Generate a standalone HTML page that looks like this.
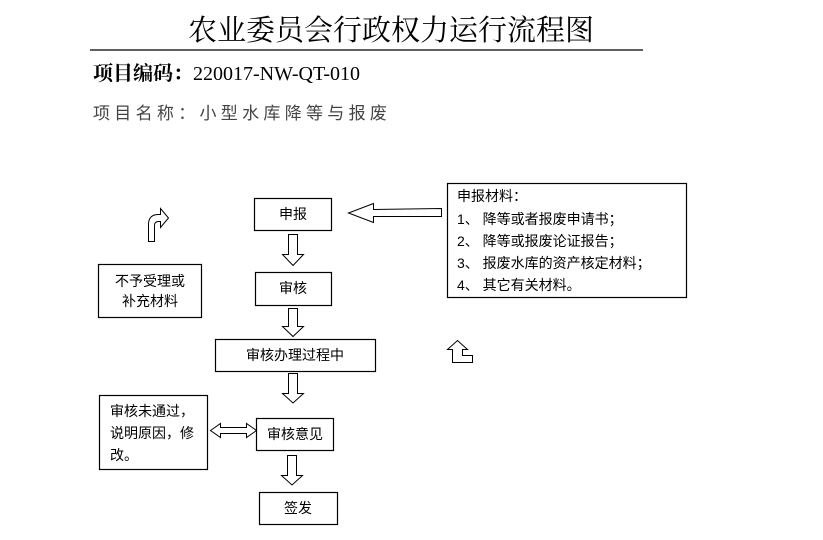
<!DOCTYPE html>
<html><head><meta charset="utf-8"><style>
body{margin:0;background:#fff;width:823px;height:540px;overflow:hidden;}
svg{display:block}
text{font-family:"Liberation Serif","Noto Serif CJK SC","Noto Sans CJK SC",serif;}
.s{font-family:"Liberation Sans","Noto Sans CJK SC",sans-serif;font-size:14px;fill:#000}
</style></head><body>
<svg width="823" height="540" viewBox="0 0 823 540" xmlns="http://www.w3.org/2000/svg">
<text x="391" y="40" text-anchor="middle" font-size="29" style="font-family:'Noto Serif CJK SC','Liberation Serif',serif">农业委员会行政权力运行流程图</text>
<line x1="90" y1="50" x2="643" y2="50" stroke="#000" stroke-width="1.2"/>
<text x="93" y="80" font-size="20"><tspan font-weight="bold" style="font-family:'Noto Serif CJK SC',serif">项目编码：</tspan>220017-NW-QT-010</text>
<text x="93" y="119" font-size="17" fill="#444" letter-spacing="4.3" style="font-family:'Noto Sans CJK SC',sans-serif">项目名称：小型水库降等与报废</text>
<g fill="#fff" stroke="#000" stroke-width="1.2">
<rect x="254.5" y="198.5" width="77" height="32"/>
<rect x="255.5" y="272.5" width="76" height="33"/>
<rect x="215.5" y="339.5" width="160" height="32"/>
<rect x="256.5" y="418.5" width="77" height="32"/>
<rect x="259.5" y="492.5" width="78" height="32"/>
<rect x="98.5" y="264.5" width="103" height="53"/>
<rect x="99.5" y="395.5" width="108" height="74"/>
<rect x="447.5" y="183.5" width="239" height="114"/>
</g>
<g fill="#fff" stroke="#000" stroke-width="1">
<path d="M288.5 234.5h9v20h6l-10.5 11l-10.5-11h6z"/>
<path d="M288.5 308.5h9v18h6l-10.5 10l-10.5-10h6z"/>
<path d="M288.5 373.5h9v20h6l-10.5 9.5l-10.5-9.5h6z"/>
<path d="M287.5 455.5h9v20h6l-10.5 9.5l-10.5-9.5h6z"/>
<path d="M441.5 208.5v8h-68v6l-25-9.5l25-9.5v6z"/>
<path d="M210.5 430.5l10-7v4h26v-4l10 7l-10 7v-4h-26v4z"/>
<path d="M148.5 241.5v-17q0-10 10-10h2v-6l8 9.5l-8 9.5v-6h-2q-4 0-4 4v16z"/>
<path d="M452.5 362.5v-13h-5l10-9l10 9h-5v6h10v7z"/>
</g>
<g class="s">
<text class="s" x="293" y="219" text-anchor="middle">申报</text>
<text class="s" x="293" y="293" text-anchor="middle">审核</text>
<text class="s" x="295" y="360" text-anchor="middle">审核办理过程中</text>
<text class="s" x="295" y="439" text-anchor="middle">审核意见</text>
<text class="s" x="298" y="513" text-anchor="middle">签发</text>
<text class="s" x="115" y="286">不予受理或</text>
<text class="s" x="122" y="306">补充材料</text>
<text class="s" x="110" y="416">审核未通过，</text>
<text class="s" x="110" y="438">说明原因，修</text>
<text class="s" x="110" y="460">改。</text>
<text class="s" x="457" y="201">申报材料：</text>
<text class="s" x="457" y="224">1、 降等或者报废申请书；</text>
<text class="s" x="457" y="246">2、 降等或报废论证报告；</text>
<text class="s" x="457" y="268">3、 报废水库的资产核定材料；</text>
<text class="s" x="457" y="290">4、 其它有关材料。</text>
</g>
</svg>
</body></html>
